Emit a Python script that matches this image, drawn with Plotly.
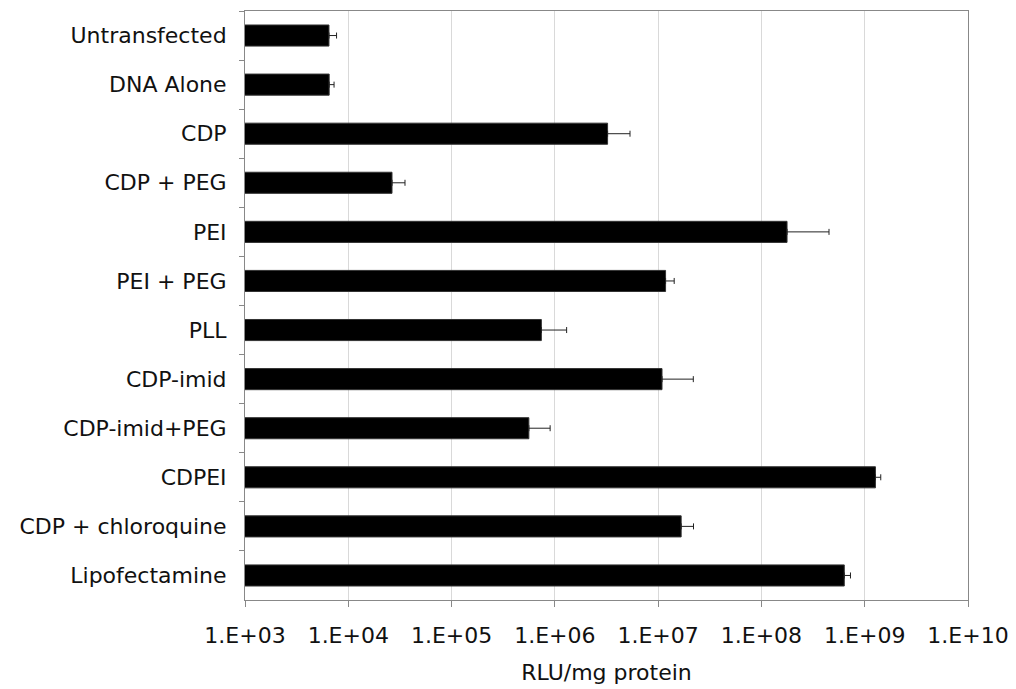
import plotly.graph_objects as go

# Transfection efficiency by delivery vehicle (luciferase activity)
categories = [
    "Untransfected", "DNA Alone", "CDP", "CDP + PEG", "PEI", "PEI + PEG",
    "PLL", "CDP-imid", "CDP-imid+PEG", "CDPEI", "CDP + chloroquine", "Lipofectamine",
]
rlu = [6500, 6530, 3.24e6, 2.65e4, 1.77e8, 1.18e7,
       7.4e5, 1.09e7, 5.6e5, 1.27e9, 1.67e7, 6.34e8]
rlu_err = [1200, 750, 2.1e6, 8.9e3, 2.74e8, 2.5e6,
           5.6e5, 1.1e7, 3.4e5, 1.6e8, 5.3e6, 9.4e7]

tick_vals = [1e3, 1e4, 1e5, 1e6, 1e7, 1e8, 1e9, 1e10]
tick_text = ["1.E+03", "1.E+04", "1.E+05", "1.E+06", "1.E+07", "1.E+08", "1.E+09", "1.E+10"]

font_family = "DejaVu Sans, Verdana, sans-serif"

fig = go.Figure(
    go.Bar(
        x=rlu,
        y=categories,
        orientation="h",
        marker=dict(color="black", line=dict(color="#333333", width=1)),
        error_x=dict(type="data", array=rlu_err, symmetric=False,
                     arrayminus=[0] * len(rlu), color="#222222",
                     thickness=1, width=3),
    )
)

fig.update_layout(
    width=1016,
    height=689,
    margin=dict(l=245, r=48, t=11, b=89),
    paper_bgcolor="white",
    plot_bgcolor="white",
    bargap=0.57,
    showlegend=False,
    font=dict(family=font_family, size=22, color="#111111"),
)

fig.update_xaxes(
    type="log",
    range=[3, 10],
    tickvals=tick_vals,
    ticktext=tick_text,
    automargin=False,
    showgrid=True,
    gridcolor="#d9d9d9",
    gridwidth=1,
    ticks="outside",
    ticklen=6,
    tickcolor="#888888",
    ticklabelstandoff=10,
    showline=True,
    linecolor="#888888",
    linewidth=1,
    mirror=True,
    title=dict(text="RLU/mg protein", font=dict(size=22), standoff=17),
    zeroline=False,
)

fig.update_yaxes(
    autorange="reversed",
    automargin=False,
    tickson="boundaries",
    ticks="outside",
    ticklen=5,
    tickcolor="#888888",
    ticklabelstandoff=13,
    showline=True,
    linecolor="#888888",
    linewidth=1,
    mirror=True,
    showgrid=False,
)

fig.write_html("out.html")
